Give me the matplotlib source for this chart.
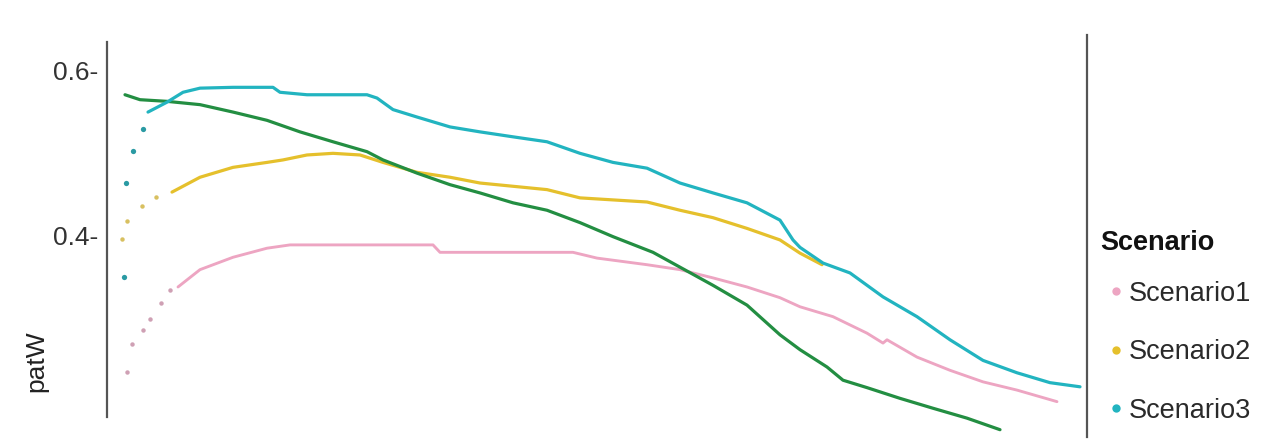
import matplotlib
matplotlib.use("Agg")
import matplotlib.pyplot as plt
from matplotlib.lines import Line2D

plt.rcParams['font.family'] = ['Liberation Sans', 'DejaVu Sans']

# ---- data (x in arbitrary time units, y = patW) ----
s1_dot_x = [20, 25, 36, 43, 54, 63]
s1_dot_y = [0.234, 0.268, 0.285, 0.298, 0.318, 0.333]
s1_x = [71, 93, 126, 160, 183, 326, 333, 393, 466, 490, 540, 573, 606, 640, 673, 693, 726,
        760, 776, 780, 810, 843, 876, 910, 950]
s1_y = [0.337, 0.358, 0.373, 0.384, 0.388, 0.388, 0.379, 0.379, 0.379, 0.372, 0.364, 0.358,
        0.348, 0.337, 0.324, 0.313, 0.301, 0.281, 0.269, 0.273, 0.252, 0.236, 0.222, 0.212, 0.198]

s2_dot_x = [15, 20, 35, 49]
s2_dot_y = [0.395, 0.417, 0.435, 0.446]
s2_x = [65, 93, 126, 160, 176, 200, 226, 253, 276, 310, 343, 373, 440, 473, 540, 573, 606,
        640, 673, 693, 715]
s2_y = [0.452, 0.470, 0.482, 0.488, 0.491, 0.497, 0.499, 0.497, 0.488, 0.476, 0.470, 0.463,
        0.455, 0.445, 0.440, 0.430, 0.421, 0.408, 0.394, 0.378, 0.364]

s3_dot_x = [17, 19, 26, 36]
s3_dot_y = [0.349, 0.463, 0.502, 0.528]
s3_x = [41, 60, 76, 93, 126, 166, 173, 200, 260, 270, 286, 310, 343, 373, 406, 440, 473, 506,
        540, 573, 606, 640, 673, 686, 693, 716, 743, 776, 810, 843, 876, 910, 943, 973]
s3_y = [0.549, 0.561, 0.573, 0.578, 0.579, 0.579, 0.573, 0.570, 0.570, 0.566, 0.552, 0.543,
        0.531, 0.525, 0.519, 0.513, 0.499, 0.488, 0.481, 0.463, 0.451, 0.439, 0.418, 0.394,
        0.385, 0.366, 0.354, 0.325, 0.301, 0.273, 0.248, 0.233, 0.221, 0.216]

s4_x = [18, 33, 60, 93, 126, 160, 193, 226, 260, 276, 310, 343, 373, 406, 440, 473, 506, 546,
        573, 606, 640, 673, 693, 720, 736, 760, 793, 826, 860, 893]
s4_y = [0.570, 0.564, 0.562, 0.558, 0.549, 0.539, 0.525, 0.513, 0.501, 0.491, 0.475, 0.461,
        0.451, 0.439, 0.430, 0.415, 0.398, 0.379, 0.361, 0.339, 0.315, 0.279, 0.261, 0.240,
        0.224, 0.215, 0.202, 0.190, 0.178, 0.164]

scenario_names = ["Scenario1", "Scenario2", "Scenario3"]
legend_title = "Scenario"
ytick_vals = [0.4, 0.6]
ytick_labels = ["0.4-", "0.6-"]
y_label = "patW"

col1 = "#EDA5C2"
col2 = "#E5C02C"
col3 = "#22B4C0"
col4 = "#238E42"

W, H = 1272, 446
fig = plt.figure(figsize=(W / 100, H / 100), dpi=100)
fig.patch.set_facecolor("white")

ax = fig.add_axes([107 / W, 1 - 437 / H, 980 / W, 402 / H])
ax.set_xlim(0, 980)
ax.set_ylim(0.6 - 367 / 825, 0.6 + 35 / 825)

lw = 2.3
ms = 3.2
ax.plot(s1_x, s1_y, color=col1, lw=lw * 0.9, solid_capstyle="round")
ax.plot(s1_dot_x, s1_dot_y, "o", color="#CFA0B4", ms=ms, mew=0)
ax.plot(s2_x, s2_y, color=col2, lw=lw, solid_capstyle="round")
ax.plot(s2_dot_x, s2_dot_y, "o", color="#D8C060", ms=ms, mew=0)
ax.plot(s4_x, s4_y, color=col4, lw=lw, solid_capstyle="round")
ax.plot(s3_x, s3_y, color=col3, lw=lw, solid_capstyle="round")
ax.plot(s3_dot_x, s3_dot_y, "o", color="#2A9AA3", ms=ms + 0.6, mew=0)

for sp in ["top", "bottom"]:
    ax.spines[sp].set_visible(False)
ax.spines["left"].set_color("#555555")
ax.spines["left"].set_linewidth(1.6)
ax.spines["left"].set_bounds(0.6 + 28 / 825, 0.6 - 347 / 825)
ax.spines["right"].set_color("#555555")
ax.spines["right"].set_linewidth(1.6)

ax.set_xticks([])
ax.set_yticks(ytick_vals)
ax.set_yticklabels(ytick_labels)
ax.tick_params(axis="y", length=0, pad=6, labelsize=19, labelcolor="#333333")

fig.text(36 / W, 1 - 361 / H, y_label, rotation=90, ha="center", va="center",
         fontsize=19, color="#222222")

fig.text(1100 / W, 1 - 243 / H, legend_title, ha="left", va="center",
         fontsize=19.5, fontweight="bold", color="#111111")

handles = [Line2D([], [], marker="o", ls="", color=c, ms=6, mew=0)
           for c in [col1, col2, col3]]
leg = fig.legend(handles, scenario_names,
                 loc="upper left", bbox_to_anchor=(1096 / W, 1 - 267 / H),
                 frameon=False, fontsize=19.5,
                 handlelength=0.5, handletextpad=0.2, labelspacing=1.2,
                 borderpad=0)
for t in leg.get_texts():
    t.set_color("#2a2a2a")

fig.savefig("out.png", dpi=100, facecolor="white")
